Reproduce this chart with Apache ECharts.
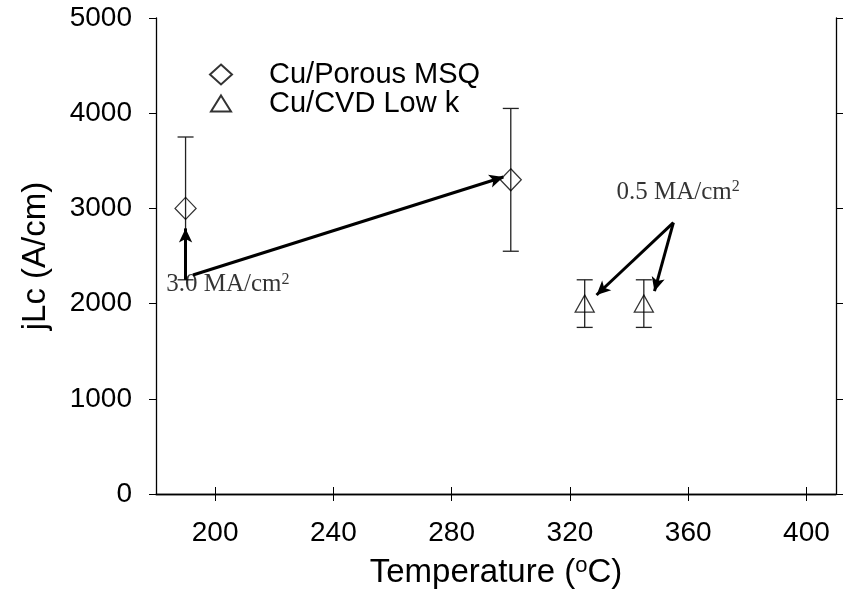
<!DOCTYPE html>
<html>
<head>
<meta charset="utf-8">
<script src="https://cdn.jsdelivr.net/npm/echarts@6/dist/echarts.min.js"></script>
<style>
  html, body { margin: 0; padding: 0; background: #fff; }
  #chart { width: 849px; height: 595px; }
</style>
</head>
<body>
<div id="chart"></div>
<script>
// data
const porousTemp = [190, 300];
const porousJlc = [3000, 3300];
const porousErr = [750, 750];

const cvdTemp = [325, 345];
const cvdJlc = [2000, 2000];
const cvdErr = [250, 250];

const xTicks = [200, 240, 280, 320, 360, 400];
const yTicks = [0, 1000, 2000, 3000, 4000, 5000];

// annotation arrows, [from, to] in data units
const arrowLines = [
  [[190, 2250], [190, 2790]],
  [[192.5, 2300], [297.5, 3330]],
  [[355, 2850], [329, 2090]],
  [[355, 2850], [348.6, 2130]],
];
const noteTexts = ['3.0 MA/cm', '0.5 MA/cm'];
const notePos = [[204.3, 2200], [356.6, 3170]];

const AXIS = '#000';
const SANS = 'Liberation Sans, Arial, sans-serif';
const SERIF = 'Liberation Serif, Times New Roman, serif';

function errRows(xs, ys, es) {
  return xs.map((x, i) => [x, ys[i] - es[i], ys[i] + es[i]]);
}

function renderErr(params, api) {
  const x = api.value(0);
  const lo = api.coord([x, api.value(1)]);
  const hi = api.coord([x, api.value(2)]);
  const cap = 8;
  const style = { stroke: '#222', lineWidth: 1.3 };
  return {
    type: 'group',
    children: [
      { type: 'line', shape: { x1: lo[0], y1: lo[1], x2: hi[0], y2: hi[1] }, style },
      { type: 'line', shape: { x1: lo[0] - cap, y1: lo[1], x2: lo[0] + cap, y2: lo[1] }, style },
      { type: 'line', shape: { x1: hi[0] - cap, y1: hi[1], x2: hi[0] + cap, y2: hi[1] }, style },
    ],
  };
}

const hollow = { color: 'rgba(255,255,255,0)', borderColor: '#000', borderWidth: 1.3 };
const legendText = (pad) => ({
  fontFamily: SANS, fontSize: 29, color: '#000', lineHeight: 29, padding: [0, 0, 0, pad],
});

const chart = echarts.init(document.getElementById('chart'));

chart.setOption({
  animation: false,
  backgroundColor: '#fff',
  grid: { left: 156, right: 13, top: 18, bottom: 101 },
  legend: [
    {
      left: 209,
      top: 60,
      padding: 0,
      itemWidth: 22,
      itemHeight: 20,
      data: ['Cu/Porous MSQ'],
      textStyle: legendText(32),
    },
    {
      left: 210,
      top: 89,
      padding: 0,
      itemWidth: 20,
      itemHeight: 16,
      data: ['Cu/CVD Low k'],
      textStyle: legendText(33),
    },
  ],
  xAxis: [
    {
      type: 'value',
      min: 180,
      max: 410,
      name: '{t|Temperature (}{s|o}{t|C)}',
      nameLocation: 'middle',
      nameGap: 61,
      nameTextStyle: {
        rich: {
          t: { fontFamily: SANS, fontSize: 33, color: '#000' },
          s: { fontFamily: SANS, fontSize: 22, color: '#000', padding: [0, 0, 14, 0] },
        },
      },
      axisLine: { lineStyle: { color: AXIS, width: 1.3 } },
      axisTick: { customValues: xTicks, length: 7, lineStyle: { color: AXIS } },
      axisLabel: { customValues: xTicks, margin: 25, fontFamily: SANS, fontSize: 28, color: '#000' },
      splitLine: { show: false },
    },
    {
      type: 'value',
      position: 'top',
      min: 180,
      max: 410,
      axisLine: { show: true, lineStyle: { color: AXIS, width: 1.3 } },
      axisTick: { customValues: xTicks, length: 7, lineStyle: { color: AXIS } },
      axisLabel: { show: false },
      splitLine: { show: false },
    },
  ],
  yAxis: [
    {
      type: 'value',
      min: 0,
      max: 5000,
      interval: 1000,
      name: 'jLc (A/cm)',
      nameLocation: 'middle',
      nameGap: 104,
      nameTextStyle: { fontFamily: SANS, fontSize: 33, color: '#000' },
      axisLine: { show: true, lineStyle: { color: AXIS, width: 1.3 } },
      axisTick: { customValues: yTicks, length: 7, lineStyle: { color: AXIS } },
      axisLabel: {
        customValues: yTicks,
        margin: 24,
        fontFamily: SANS,
        fontSize: 28,
        color: '#000',
        formatter: (v) => String(v),
      },
      splitLine: { show: false },
    },
    {
      type: 'value',
      position: 'right',
      min: 0,
      max: 5000,
      interval: 1000,
      axisLine: { show: true, lineStyle: { color: AXIS, width: 1.3 } },
      axisTick: { show: true, length: 7, lineStyle: { color: AXIS } },
      axisLabel: { show: false },
      splitLine: { show: false },
    },
  ],
  series: [
    {
      type: 'custom',
      name: 'err1',
      renderItem: renderErr,
      data: errRows(porousTemp, porousJlc, porousErr),
      z: 3,
    },
    {
      type: 'custom',
      name: 'err2',
      renderItem: renderErr,
      data: errRows(cvdTemp, cvdJlc, cvdErr),
      z: 3,
    },
    {
      type: 'scatter',
      name: 'Cu/Porous MSQ',
      symbol: 'diamond',
      symbolSize: [21, 22],
      itemStyle: hollow,
      data: porousTemp.map((x, i) => [x, porousJlc[i]]),
      z: 4,
    },
    {
      type: 'scatter',
      name: 'Cu/CVD Low k',
      symbol: 'triangle',
      symbolSize: [19, 17],
      itemStyle: hollow,
      data: cvdTemp.map((x, i) => [x, cvdJlc[i]]),
      z: 4,
    },
    {
      type: 'scatter',
      name: 'notes',
      symbolSize: 0,
      silent: true,
      data: notePos.map((p, i) => ({ value: p, name: noteTexts[i] })),
      label: {
        show: true,
        position: 'inside',
        color: '#000',
        textBorderWidth: 0,
        formatter: (p) => '{m|' + p.name + '}{s|2}',
        rich: {
          m: { fontFamily: SERIF, fontSize: 25, color: '#000', textBorderWidth: 0 },
          s: { fontFamily: SERIF, fontSize: 16, color: '#000', textBorderWidth: 0, padding: [0, 0, 10, 0] },
        },
      },
      markLine: {
        silent: true,
        symbol: ['none', 'arrow'],
        symbolSize: [10, 14],
        label: { show: false },
        lineStyle: { color: '#000', width: 3, type: 'solid' },
        data: arrowLines.map((a) => [{ coord: a[0] }, { coord: a[1] }]),
      },
      z: 5,
    },
  ],
});
</script>
</body>
</html>
